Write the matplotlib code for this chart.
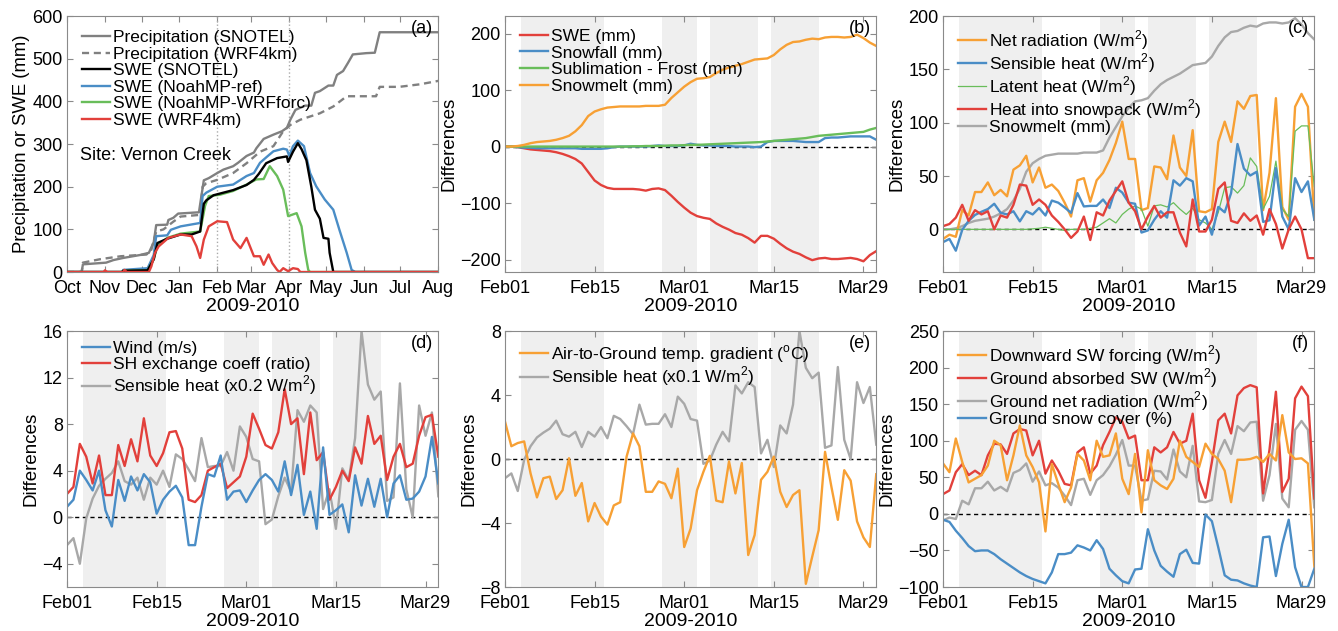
import matplotlib
matplotlib.use("Agg")
import matplotlib.pyplot as plt
import numpy as np

plt.rcParams['font.family'] = ['Liberation Sans', 'DejaVu Sans']
plt.rcParams['mathtext.fontset'] = 'custom'
plt.rcParams['mathtext.rm'] = 'Liberation Sans'

# ---------------- panel (a): days since 2009-10-01 ----------------
month_days = [0, 31, 61, 92, 123, 151, 182, 212, 243, 273, 304]
month_labels = ['Oct', 'Nov', 'Dec', 'Jan', 'Feb', 'Mar', 'Apr', 'May', 'Jun', 'Jul', 'Aug']

prcp_snotel_d = [0, 12, 13, 32, 38, 46, 60, 67, 71, 73, 82, 83, 87, 91, 108, 110, 112, 116, 123, 128,
                 136, 140, 147, 153, 155, 161, 169, 176, 180, 183, 187, 191, 195, 200, 203, 207, 214,
                 218, 221, 226, 230, 234, 245, 252, 256, 304]
prcp_snotel_v = [0, 0, 18, 22, 28, 33, 40, 45, 70, 110, 111, 122, 127, 137, 140, 178, 215, 220, 232, 240,
                 248, 256, 272, 280, 290, 312, 322, 330, 338, 358, 380, 385, 390, 390, 420, 424, 437,
                 437, 462, 471, 490, 510, 513, 514, 562, 562]

prcp_wrf_d = [0, 12, 13, 27, 44, 65, 69, 73, 79, 87, 93, 109, 111, 114, 123, 136, 147, 158, 169, 177,
              183, 191, 207, 218, 229, 253, 256, 272, 289, 304]
prcp_wrf_v = [0, 0, 22, 30, 37, 41, 52, 95, 100, 118, 130, 134, 200, 208, 216, 232, 255, 282, 295, 330,
              345, 357, 372, 388, 412, 412, 434, 434, 440, 448]

swe_snotel_d = [0, 45, 46, 66, 71, 74, 82, 93, 102, 109, 112, 114, 120, 136, 147, 153, 157, 163, 172,
                180, 181, 185, 189, 192, 196, 200, 203, 207, 210, 214, 215, 218, 304]
swe_snotel_v = [0, 0, 3, 4, 30, 68, 78, 88, 88, 95, 160, 168, 180, 192, 204, 216, 230, 255, 267,
                271, 258, 282, 302, 288, 262, 200, 146, 125, 80, 78, 45, 0, 0]

swe_ref_d = [0, 45, 46, 66, 71, 73, 82, 85, 93, 109, 111, 114, 123, 136, 147, 153, 158, 164, 169, 177,
             180, 182, 185, 189, 194, 199, 204, 211, 218, 223, 229, 233, 236, 304]
swe_ref_v = [0, 0, 5, 9, 40, 84, 86, 99, 107, 115, 178, 186, 200, 205, 225, 232, 256, 271, 283, 289,
             287, 272, 295, 308, 295, 232, 201, 170, 146, 99, 45, 5, 0, 0]

swe_wrfforc_d = [0, 45, 46, 66, 71, 74, 82, 93, 109, 113, 116, 125, 136, 147, 155, 161, 166, 172, 177,
                 181, 188, 192, 195, 197.5, 199, 304]
swe_wrfforc_v = [0, 0, 3, 4, 30, 62, 80, 90, 95, 155, 178, 181, 190, 205, 217, 218, 248, 225, 193,
                 131, 138, 107, 45, 5, 0, 0]

swe_wrf_d = [0, 30, 31, 33, 46, 47, 49, 67, 69, 72, 75, 83, 93, 102, 106, 109, 112, 116, 123, 131, 136,
             142, 147, 153, 158, 161, 165, 168, 172, 174, 177, 181, 185, 189, 191, 304]
swe_wrf_v = [0, 0, 4, 0, 0, 5, 0, 0, 13, 45, 60, 80, 88, 84, 60, 33, 76, 107, 119, 117, 76,
             56, 80, 37, 37, 17, 41, 21, 5, 0, 9, 2, 9, 7, 0, 0]

# ---------------- panels (b)-(f): daily, 2010-02-01 .. 2010-03-31 ----------------
day_ticks = [0, 14, 28, 42, 56]
day_labels = ['Feb01', 'Feb15', 'Mar01', 'Mar15', 'Mar29']
shade_spans = [(2.5, 15.5), (24.5, 30), (32, 39.5), (41.5, 49)]

swe_diff = [0, 0, -1, -3, -5, -6, -7, -8, -10, -13, -17, -22, -30, -45, -60, -68, -73, -75, -75, -75,
            -75, -76, -78, -75, -74, -77, -87, -98, -108, -117, -123, -126, -128, -136, -142, -147,
            -153, -156, -162, -170, -158, -158, -163, -172, -180, -186, -190, -196, -201, -198, -197,
            -199, -199, -198, -197, -199, -203, -192, -185]
snowfall = [0, 0, -1, -2, -2, -3, -3, -3, -3, -3, -3, -3, -4, -4, -4, -4, -3, -1, 0, 0, 0, 0, 0, 1, 2,
            1, 1, 1, 2, 5, 3, 2, 2, 1, 1, 1, 0, 0, 0, -1, 0, 8, 10, 10, 10, 10, 9, 8, 8, 8, 15, 16, 16,
            17, 18, 18, 18, 18, 12]
sublimation = [0, 0, 0, 0, 0, 0, 0, 0, 0, 0, 0, 0, 0, 0, 0, 0, 0, 0, 0, 0, 0.5, 0.5, 1, 1, 1, 1.5, 2,
               2, 2.5, 3, 3, 3.5, 4, 4.5, 5, 5.5, 6, 6.5, 7, 7.5, 8, 9, 10, 11, 12, 13, 14, 15, 17, 19,
               20, 21, 22, 23, 24, 25, 26, 30, 33]
snowmelt = [0, 0, 1, 3, 6, 8, 9, 10, 12, 15, 19, 27, 38, 54, 62, 66, 69, 70, 71, 71, 71, 71, 72, 72, 72,
            74, 86, 96, 106, 114, 120, 121, 123, 130, 136, 140, 143, 146, 150, 154, 155, 156, 162, 172,
            180, 185, 186, 189, 191, 190, 193, 194, 194, 193, 194, 198, 192, 184, 178]

net_rad = [-9, -5, -7, 18, 13, 35, 35, 44, 32, 37, 31, 56, 60, 69, 44, 58, 39, 42, 36, 25, 12, 46, 48,
           26, 46, 53, 65, 81, 101, 66, 66, 18, 20, 59, 58, 47, 88, 58, 50, 93, 17, 16, 19, 82, 101, 82,
           120, 113, 125, 126, 18, 53, 123, 21, 9, 115, 127, 115, 9]
sensible = [-12, -9, -20, -0.5, 8, 13.5, 16.5, 19, 24, 15.5, 14, 17, 7.5, 17, 14, 20, 13, 27, 25, 20.5,
            15.5, 34, 21.5, 22, 22, 28, 20, 39, 34.5, 25, 24, -3, -1, 9, 17, 11, 46, 41, 48, 45, 3.5,
            12, -5, 21, 16, 34, 80, 57, 50.5, 54, 7, 8.5, 57.5, 12, 0, 48, 35, 45, 9]
latent = [0, 0, 0, 0, 0, 0, 0, 0, 0, 0, 0, 0, 0, 0, 0.5, 1, 2, 1, 0, -1, 0, 0, 0, 1, 2, 6, 10, 6, 14,
          19, 22, 19, 3, 22, 23, 21, 25, 19, 14, 20, 9, 6, 0, 16, 39, 40, 34, 41, 67, 59, 19, 31, 64,
          19, 12, 92, 97, 97, 40]
heat_snow = [3, 5, 11, 23, 8, 18, 14, 17, 0, 13, 11, 23, 42, 41, 23, 28, 23, 13, 7, 0, -8, -2, 12, -10,
             16, 13, 27, 36, 45, 25, 17, 0, 12, 22, 11, 16, 16, -3, -16, 28, -2, -2, 9, 38, 44, 8, 6,
             15, 8, 13, -5, 19, 5, -18, 0, 12, 0, -27, -27]

wind = [0.9, 1.5, 4.0, 3.2, 2.3, 4.0, 0.6, -0.8, 3.2, 1.4, 3.5, 2.3, 3.7, 3.0, 0.3, 1.5, 2.2, 2.7, 1.7,
        -2.4, -2.4, 0.9, 3.7, 3.5, 5.3, 1.5, 2.2, 2.3, 1.3, 2.3, 3.2, 3.7, 3.2, 2.2, 4.8, 1.9, 4.5, 0.2,
        2.2, -1.0, 6.0, 0.2, 0.6, 1.1, -1.3, 3.6, 1.0, 3.3, 0.9, 3.3, 0.0, 2.9, 3.6, 1.5, 1.6, 2.2,
        3.5, 6.9, 2.9]
sh_coef = [2.0, 2.6, 6.3, 5.2, 2.9, 5.3, 1.9, 1.9, 6.2, 4.4, 6.7, 4.8, 8.5, 5.3, 4.4, 5.5, 7.3, 7.4,
           5.9, 1.5, 1.3, 1.9, 4.0, 4.3, 4.6, 2.5, 3.0, 3.5, 5.2, 8.9, 7.6, 6.2, 5.9, 7.3, 11.0, 8.0,
           8.5, 3.7, 9.0, 4.9, 5.6, 1.5, 2.6, 4.0, 3.1, 6.0, 4.6, 8.7, 6.3, 7.0, 3.2, 5.2, 6.3, 4.3,
           4.6, 7.0, 8.6, 8.8, 5.2]

temp_grad = [2.35, 0.8, 1.0, 1.1, -0.9, -2.4, -1.2, -1.1, -2.5, -1.95, 0.05, -2.3, -1.5, -3.9, -2.75,
             -3.6, -4.1, -2.9, -2.7, 0.15, 1.6, 0.8, -2.05, -2.05, -1.4, -1.55, -2.45, -0.6, -5.5,
             -4.35, -1.95, -0.8, 0.2, -2.6, -2.7, -0.15, -2.15, -0.25, -6.0, -4.75, -1.3, -0.8, 0.15,
             -2.05, -3.0, -2.25, -1.95, -7.8, -6.1, -4.45, 0.45, -1.75, -3.8, -0.7, -1.35, -3.9, -4.9,
             -5.5, -0.95]

down_sw = [69, 57, 103, 71, 43, 48, 53, 66, 100, 94, 46, 80, 121, 80, 64, 43, -24, 68, 41, 16, 36, 82,
           73, 46, 100, 78, 80, 110, 48, 27, 82, 2, 87, 46, 39, 34, 48, 100, 78, 71, 64, 96, 82, 75, 59,
           16, 74, 74, 75, 78, 71, 82, 73, 135, 84, 75, 76, 69, -72]
ground_sw = [27, 32, 57, 68, 53, 59, 53, 80, 96, 95, 82, 110, 116, 114, 80, 100, 55, 73, 59, 41, 39, 84,
             91, 55, 66, 94, 112, 132, 126, 103, 107, 46, 46, 91, 84, 91, 112, 96, 100, 137, 46, 22, 71,
             128, 137, 110, 162, 172, 176, 173, 28, 88, 167, 30, 48, 158, 174, 161, 21]
snow_cover = [-8, -11, -23, -33, -44, -51, -50, -50, -55, -62, -68, -74, -80, -85, -89, -92, -95, -80,
              -55, -55, -53, -43, -46, -50, -36, -48, -75, -84, -92, -95, -76, -75, -21, -50, -71, -79,
              -86, -55, -49, -67, -68, -1, -10, -46, -84, -90, -91, -95, -98, -100, -32, -31, -85, -41,
              -8, -73, -100, -100, -75]

days = np.arange(len(swe_diff))

ORANGE = '#F7A034'
BLUE = '#4A8DC6'
RED = '#E2403B'
GREEN = '#69BD5A'
LGRAY = '#A8A8A8'
DGRAY = '#808080'
EDGE = '#8a8a8a'
LW = 1.7

fig = plt.figure(figsize=(13.38, 6.31), dpi=100)
lefts = [0.0501, 0.3774, 0.7048]
w, h = 0.2775, 0.4057
axes = [fig.add_axes([lefts[i % 3], 0.5689 if i < 3 else 0.0697, w, h]) for i in range(6)]


def style(ax, tag):
    ax.tick_params(direction='in', top=True, right=True, labelsize=13, color=EDGE, length=4)
    ax.tick_params(axis='x', pad=6)
    ax.tick_params(axis='y', pad=3)
    for s in ax.spines.values():
        s.set_color(EDGE)
        s.set_linewidth(0.8)
    ax.text(0.985, 0.985, tag, transform=ax.transAxes, ha='right', va='top', fontsize=13)


def daily(ax, ylim, yticks):
    for s, e in shade_spans:
        ax.axvspan(s, e, color='#efefef', lw=0, zorder=0)
    ax.axhline(0, color='black', ls='--', lw=1, dashes=(3, 2.5), zorder=1)
    ax.set_xlim(0, 58)
    ax.set_xticks(day_ticks)
    ax.set_xticklabels(day_labels)
    ax.set_ylim(*ylim)
    ax.set_yticks(yticks)
    ax.set_xlabel('2009-2010', fontsize=14, labelpad=0.5)
    ax.set_ylabel('Differences', fontsize=13.5, labelpad=2)


def leg(ax, handles=None, y=0.965, spacing=0.08):
    ax.legend(handles=handles, loc='upper left', bbox_to_anchor=(0.04, y), frameon=False,
              fontsize=12.5, handlelength=1.6, handletextpad=0.2, labelspacing=spacing,
              borderaxespad=0, borderpad=0)


# (a)
ax = axes[0]
ax.axvline(month_days[4], color='#aaaaaa', ls=':', lw=1)
ax.axvline(month_days[6], color='#aaaaaa', ls=':', lw=1)
ax.plot(prcp_snotel_d, prcp_snotel_v, color=DGRAY, lw=LW, label='Precipitation (SNOTEL)')
ax.plot(prcp_wrf_d, prcp_wrf_v, color=DGRAY, lw=LW, ls='--', dashes=(3, 2), label='Precipitation (WRF4km)')
ax.plot(swe_snotel_d, swe_snotel_v, color='black', lw=LW, label='SWE (SNOTEL)', zorder=4)
ax.plot(swe_ref_d, swe_ref_v, color=BLUE, lw=LW, label='SWE (NoahMP-ref)', zorder=3)
ax.plot(swe_wrfforc_d, swe_wrfforc_v, color=GREEN, lw=LW, label='SWE (NoahMP-WRFforc)', zorder=3)
ax.plot(swe_wrf_d, swe_wrf_v, color=RED, lw=LW, label='SWE (WRF4km)', zorder=5)
ax.set_xlim(0, 304)
ax.set_ylim(0, 600)
ax.set_xticks(month_days)
ax.set_xticklabels(month_labels)
ax.set_yticks(range(0, 601, 100))
ax.set_xlabel('2009-2010', fontsize=14, labelpad=0.5)
ax.set_ylabel('Precipitation or SWE (mm)', fontsize=13.3, labelpad=2)
ax.text(0.035, 0.455, 'Site: Vernon Creek', transform=ax.transAxes, fontsize=13, va='center')
style(ax, '(a)')
leg(ax, y=0.945)

# (b)
ax = axes[1]
daily(ax, (-222, 231), [-200, -100, 0, 100, 200])
ax.plot(days, swe_diff, color=RED, lw=LW, label='SWE (mm)')
ax.plot(days, snowfall, color=BLUE, lw=LW, label='Snowfall (mm)')
ax.plot(days, sublimation, color=GREEN, lw=LW, label='Sublimation - Frost (mm)')
ax.plot(days, snowmelt, color=ORANGE, lw=LW, label='Snowmelt (mm)')
style(ax, '(b)')
leg(ax, y=0.95)

# (c)
ax = axes[2]
daily(ax, (-40, 200), [0, 50, 100, 150, 200])
l_sm, = ax.plot(days, snowmelt, color=LGRAY, lw=LW, label='Snowmelt (mm)')
l_nr, = ax.plot(days, net_rad, color=ORANGE, lw=LW, label='Net radiation (W/m$^2$)')
l_lh, = ax.plot(days, latent, color=GREEN, lw=0.9, label='Latent heat (W/m$^2$)')
l_sh, = ax.plot(days, sensible, color=BLUE, lw=LW, label='Sensible heat (W/m$^2$)')
l_hs, = ax.plot(days, heat_snow, color=RED, lw=LW, label='Heat into snowpack (W/m$^2$)')
style(ax, '(c)')
leg(ax, handles=[l_nr, l_sh, l_lh, l_hs, l_sm], y=0.952, spacing=-0.04)

# (d)
ax = axes[3]
daily(ax, (-6, 16), [-4, 0, 4, 8, 12, 16])
l_g, = ax.plot(days, np.array(sensible) * 0.2, color=LGRAY, lw=LW, label='Sensible heat (x0.2 W/m$^2$)')
l_r, = ax.plot(days, sh_coef, color=RED, lw=LW, label='SH exchange coeff (ratio)')
l_b, = ax.plot(days, wind, color=BLUE, lw=LW, label='Wind (m/s)')
style(ax, '(d)')
leg(ax, handles=[l_b, l_r, l_g], y=0.962, spacing=0.08)

# (e)
ax = axes[4]
daily(ax, (-8, 8), [-8, -4, 0, 4, 8])
l_g, = ax.plot(days, np.array(sensible) * 0.1, color=LGRAY, lw=LW, label='Sensible heat (x0.1 W/m$^2$)')
l_o, = ax.plot(days, temp_grad, color=ORANGE, lw=LW,
               label='Air-to-Ground temp. gradient ($^{\\mathrm{o}}$C)')
style(ax, '(e)')
leg(ax, handles=[l_o, l_g], y=0.952, spacing=-0.02)

# (f)
ax = axes[5]
daily(ax, (-100, 250), [-100, -50, 0, 50, 100, 150, 200, 250])
l_g, = ax.plot(days, net_rad, color=LGRAY, lw=LW, label='Ground net radiation (W/m$^2$)')
l_r, = ax.plot(days, ground_sw, color=RED, lw=LW, label='Ground absorbed SW (W/m$^2$)')
l_o, = ax.plot(days, down_sw, color=ORANGE, lw=LW, label='Downward SW forcing (W/m$^2$)')
l_b, = ax.plot(days, snow_cover, color=BLUE, lw=LW, label='Ground snow cover (%)')
style(ax, '(f)')
leg(ax, handles=[l_o, l_r, l_g, l_b], y=0.952, spacing=-0.04)

fig.savefig('out.png', dpi=100)
